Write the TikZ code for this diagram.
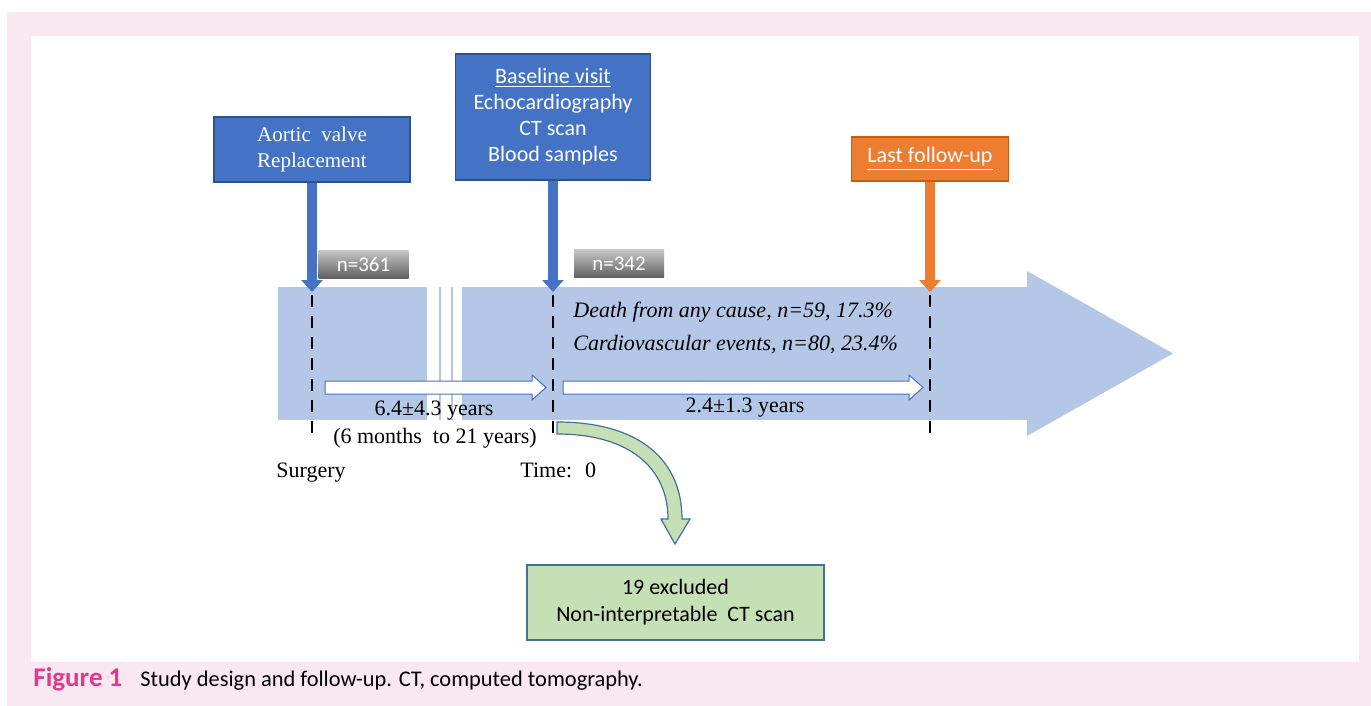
\documentclass[tikz,border=0pt]{standalone}
\usepackage{fontspec}
\setmainfont{Liberation Serif}
\newfontfamily\calibri{Carlito}
\usetikzlibrary{arrows.meta,positioning}

\definecolor{bandblue}{HTML}{B4C7E7}
\definecolor{boxblue}{HTML}{4472C4}
\definecolor{boxedge}{HTML}{2F528F}
\definecolor{fuorange}{HTML}{ED7D31}
\definecolor{fuedge}{HTML}{C55A11}
\definecolor{exgreen}{HTML}{C5E0B4}
\definecolor{exedge}{HTML}{41719C}
\definecolor{pinkbg}{HTML}{FAE8F1}
\definecolor{figpink}{HTML}{E6378E}

\tikzset{
  eventbox/.style={draw=boxedge,fill=boxblue,text=white,align=center,inner sep=0pt,line width=0.6pt},
  nbox/.style={top color=black!22,bottom color=black!62,text=white,inner sep=0pt,
    minimum width=45pt,minimum height=14pt,font=\calibri\fontsize{10.5}{12}\selectfont},
  downarrow/.style={line width=5pt,-{Triangle[width=10.5pt,length=6pt]}},
  timeline/.style={line width=1.2pt,dash pattern=on 6pt off 4.5pt},
  hollow/.style={draw=boxblue,fill=white,line width=0.5pt,line join=miter},
  txt/.style={font=\fontsize{11}{12}\selectfont,inner sep=0pt},
}

\begin{document}
\begin{tikzpicture}[x=0.5pt,y=-0.5pt,line cap=butt]
\useasboundingbox (0,0) rectangle (1371,706);
\fill[white] (0,0) rectangle (1371,706);
\fill[pinkbg] (7,12) rectangle (1371,706);
\fill[white] (31,36) rectangle (1359,662);

%%%%%%%%%%%%%%%% BAND %%%%%%%%%%%%%%%%%%%
\fill[bandblue] (278,287) rectangle (427,420);
\fill[bandblue] (462,287) rectangle (1027,420);
\fill[bandblue] (1027,271) -- (1173,353.5) -- (1027,436) -- cycle;
\foreach \x in {440,452}
    \draw[bandblue,line width=0.8pt] (\x,287) -- (\x,420);

%%%%%%%%%%%%%%%% BOXES %%%%%%%%%%%%%%%%%%%
\node[eventbox,minimum width=98pt,minimum height=32.5pt,
      font=\fontsize{10.5}{13}\selectfont] (aortic) at (312,149.5)
      {Aortic~ valve\\Replacement};
\node[eventbox,minimum width=97.5pt,minimum height=63pt,
      font=\calibri\fontsize{11}{13}\selectfont] (baseline) at (553,117)
      {\underline{Baseline visit}\\Echocardiography\\CT scan\\Blood samples};
\node[eventbox,draw=fuedge,fill=fuorange,minimum width=78.5pt,minimum height=22pt,
      font=\calibri\fontsize{11}{13}\selectfont] (lastfu) at (930,159)
      {\underline{Last follow-up}};

\node[nbox] (n361) at (363.5,264) {n=361};
\node[nbox] (n342) at (619,263.5) {n=342};

%%%%%%%%%%%%%%%% TIME LINES %%%%%%%%%%%%%%%%%%%
\foreach \x/\nm in {312/surg,553/base,930/last}{
    \coordinate (\nm top) at (\x,292);
    \coordinate (\nm bot) at (\x,438);
    \draw[timeline] (\x,295) -- (\nm bot);
}
\draw[downarrow,boxblue] (aortic.south) -- (surgtop);
\draw[downarrow,boxblue] (baseline.south) -- (basetop);
\draw[downarrow,fuorange] (lastfu.south) -- (lasttop);

% hollow arrows
\foreach \a/\b in {325/546,563/923}
    \filldraw[hollow] (\a,381) -- ({\b-14},381) -- ({\b-14},375) -- (\b,387.5)
        -- ({\b-14},400) -- ({\b-14},394) -- (\a,394) -- cycle;

%%%%%%%%%%%%%%%% TEXT %%%%%%%%%%%%%%%%%%%
\node[txt,font=\itshape\fontsize{11}{12}\selectfont,anchor=base west] (death) at (573,317)
    {Death from any cause, n=59, 17.3\%};
\node[txt,font=\itshape\fontsize{11}{12}\selectfont,anchor=base west] (cvev) at (573,350)
    {Cardiovascular events, n=80, 23.4\%};

\node[txt,anchor=base] (dur1) at (434,415) {6.4±4.3 years};
\node[txt,anchor=base] (range1) at (435,443) {(6 months~ to 21 years)};
\node[txt,anchor=base] (dur2) at (745,412) {2.4±1.3 years};
\node[txt,anchor=base west] (surgery) at (276,477) {Surgery};
\node[txt,anchor=base west] (time0) at (520,477) {Time:~ 0};

%%%%%%%%%%%%%%%% EXCLUDED %%%%%%%%%%%%%%%%%%%
\filldraw[fill=exgreen,draw=exedge,line width=0.6pt,line join=miter]
    (557,422) .. controls (642,422) and (682,462) .. (682,519)
    -- (690,519) -- (675,544) -- (661,519) -- (668,519)
    .. controls (668,470) and (632,434) .. (557,434) -- cycle;
\node[draw=exedge,fill=exgreen,line width=0.6pt,align=center,inner sep=0pt,
      minimum width=148.5pt,minimum height=37.5pt,
      font=\calibri\fontsize{11}{13.5}\selectfont] (excl) at (675.5,602.5)
      {19 excluded\\Non-interpretable~ CT scan};

%%%%%%%%%%%%%%%% CAPTION %%%%%%%%%%%%%%%%%%%
\node[inner sep=0pt,anchor=base west,text=figpink,font=\calibri\bfseries\fontsize{13.5}{15}\selectfont]
    (fig) at (33,686) {Figure 1};
\node[inner sep=0pt,anchor=base west,font=\calibri\fontsize{11.2}{13}\selectfont]
    (cap) at (140,686) {Study design and follow-up. CT, computed tomography.};

\end{tikzpicture}
\end{document}
